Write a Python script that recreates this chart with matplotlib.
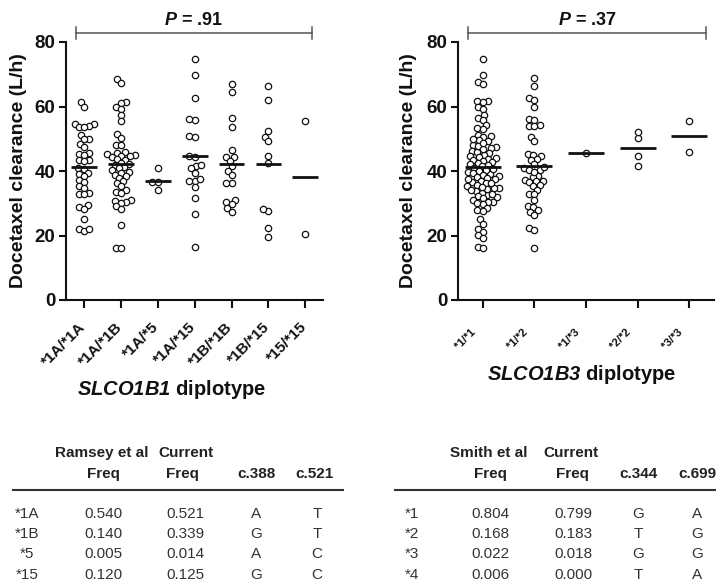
import numpy as np
import matplotlib
matplotlib.use("Agg")
import matplotlib.pyplot as plt
from matplotlib.transforms import ScaledTranslation

plt.rcParams['font.family'] = 'Liberation Sans'
plt.rcParams['mathtext.fontset'] = 'custom'
plt.rcParams['mathtext.it'] = 'Liberation Sans:italic:bold'
plt.rcParams['mathtext.rm'] = 'Liberation Sans:italic:bold'

# ---- data (docetaxel clearance, L/h) ----
b1_labels = ['*1A/*1A', '*1A/*1B', '*1A/*5', '*1A/*15', '*1B/*1B', '*1B/*15', '*15/*15']
b1_1a1a = [61.3, 59.9, 54.6, 54.6, 54.0, 53.5, 53.5, 51.2, 50.0, 49.8, 48.4, 47.3, 45.5,
           45.3, 45.0, 43.5, 43.3, 43.0, 41.0, 40.5, 39.5, 39.0, 38.3, 37.2, 36.5, 35.5,
           34.8, 33.3, 33.0, 32.8, 29.5, 28.9, 28.3, 25.0, 21.9, 21.5, 21.9]
b1_1a1b = [68.5, 67.4, 61.3, 61.0, 59.9, 59.3, 57.4, 55.6, 51.5, 50.3, 48.2, 48.1, 46.0,
           45.6, 45.2, 45.0, 44.8, 44.5, 44.2, 43.8, 43.5, 42.6, 42.2, 41.8, 41.3, 40.8,
           40.2, 39.6, 39.3, 38.9, 38.3, 37.8, 36.8, 36.3, 35.3, 34.0, 33.6, 33.2, 31.0,
           30.6, 30.4, 30.2, 29.0, 28.1, 23.4, 16.2, 16.2]
b1_1a5 = [40.8, 36.6, 36.6, 34.2]
b1_1a15 = [74.7, 69.8, 62.7, 55.8, 56.1, 50.8, 50.4, 44.4, 44.6, 41.6, 40.8, 41.9, 39.5,
           36.9, 37.6, 36.9, 35.1, 31.5, 26.7, 16.5]
b1_1b1b = [67.0, 64.4, 56.3, 53.7, 46.5, 44.2, 44.2, 43.2, 41.6, 40.1, 38.8, 36.2, 36.2,
           30.3, 31.0, 29.8, 28.4, 27.4]
b1_1b15 = [66.5, 62.0, 52.4, 50.6, 49.3, 44.8, 42.4, 27.6, 28.1, 22.2, 19.4]
b1_1515 = [55.6, 20.4]

b3_labels = ['*1/*1', '*1/*2', '*1/*3', '*2/*2', '*3/*3']
b3_11 = [74.6, 69.8, 67.5, 66.9, 61.7, 61.7, 61.3, 60.0, 59.1, 57.4, 56.3, 55.8, 54.4,
         53.2, 53.0, 51.2, 50.7, 50.5, 49.5, 49.3, 48.0, 47.5, 47.2, 46.3, 46.0, 45.6,
         45.0, 44.7, 44.4, 44.0, 43.8, 43.5, 43.2, 42.8, 42.5, 42.1, 41.8, 41.5,
         32.5, 31.8, 39.2, 47.8, 46.8, 48.6, 50.0,
         41.0, 40.6, 40.3, 40.0, 39.6, 39.3, 38.9, 38.5, 38.1, 37.8, 37.4, 37.0, 36.6,
         36.2, 35.8, 35.3, 34.8, 34.3, 33.8, 33.3, 33.0,
         34.6, 32.2, 31.5, 37.6, 36.4, 35.0, 34.0,
         31.0, 30.5, 30.3, 30.1, 29.8, 28.4, 28.0, 27.6, 25.0, 23.6, 22.0, 21.2, 20.2,
         19.3, 16.5, 16.0]
b3_12 = [68.7, 66.5, 62.7, 62.0, 59.7, 56.1, 55.8, 54.3, 54.0, 53.8, 50.6, 49.3, 45.3,
         45.0, 44.8, 43.8, 43.5, 40.3, 42.3, 38.5, 38.2, 41.2, 40.8, 40.3, 39.8, 37.2,
         37.0, 36.8, 36.5, 35.6, 35.3, 34.2, 33.0, 32.8, 31.0, 29.2, 28.8, 27.8, 27.3,
         26.5, 22.3, 21.7, 16.2]
b3_13 = [45.5]
b3_22 = [50.3, 52.2, 44.7, 41.6]
b3_33 = [55.6, 45.8]

p_left = '.91'
p_right = '.37'

# allele tables
t1_head1 = ['Ramsey et al', 'Current']
t1_head2 = ['Freq', 'Freq', 'c.388', 'c.521']
t1_rows = [['*1A', '0.540', '0.521', 'A', 'T'],
           ['*1B', '0.140', '0.339', 'G', 'T'],
           ['*5', '0.005', '0.014', 'A', 'C'],
           ['*15', '0.120', '0.125', 'G', 'C']]
t3_head1 = ['Smith et al', 'Current']
t3_head2 = ['Freq', 'Freq', 'c.344', 'c.699']
t3_rows = [['*1', '0.804', '0.799', 'G', 'A'],
           ['*2', '0.168', '0.183', 'T', 'G'],
           ['*3', '0.022', '0.018', 'G', 'G'],
           ['*4', '0.006', '0.000', 'T', 'A']]

W, H = 716, 583
fig = plt.figure(figsize=(W / 100, H / 100), dpi=100)


def fx(x):
    return x / W


def fy(y):
    return 1 - y / H


def swarm_x(ax, vals, center, d=5.4):
    # simple beeswarm in pixel space (circles may overlap a little, like Prism)
    tr = ax.transData
    ys = np.array([tr.transform((center, v))[1] for v in vals])
    placed = []
    offs = np.zeros(len(vals))
    for i in np.argsort(ys):
        y = ys[i]
        cands = [0.0]
        for px_, py_ in placed:
            dy = abs(y - py_)
            if dy < d:
                dx = np.sqrt(d * d - dy * dy)
                cands += [px_ + dx, px_ - dx]
        cands.sort(key=lambda c: (abs(c), c))
        for c in cands:
            if all((c - px_) ** 2 + (y - py_) ** 2 >= d * d - 1e-6 for px_, py_ in placed):
                break
        placed.append((c, y))
        offs[i] = c
    unit = tr.transform((1, 0))[0] - tr.transform((0, 0))[0]
    return center + offs / unit


def panel(rect, xlim, groups, labels, lab_size, lab_pad, lab_dx, ylab_x,
          bracket, ptext, pval):
    ax = fig.add_axes(rect)
    ax.set_xlim(*xlim)
    ax.set_ylim(0, 80)
    for s in ['top', 'right']:
        ax.spines[s].set_visible(False)
    for s in ['left', 'bottom']:
        ax.spines[s].set_linewidth(1.5)
        ax.spines[s].set_color('#111111')
    ax.set_yticks([0, 20, 40, 60, 80])
    ax.tick_params(axis='y', length=5.3, width=1.5, pad=2, labelsize=13.5, colors='#111111')
    for t in ax.get_yticklabels():
        t.set_fontweight('bold')
    ax.set_xticks(range(len(labels)))
    ax.set_xticklabels(labels, rotation=45, ha='right', fontsize=lab_size, fontweight='bold')
    ax.tick_params(axis='x', length=5.8, width=1.5, pad=lab_pad, colors='#111111')
    off = ScaledTranslation(lab_dx / 100, 0, fig.dpi_scale_trans)
    for t in ax.get_xticklabels():
        t.set_transform(t.get_transform() + off)
    ax.set_ylabel('Docetaxel clearance (L/h)', fontsize=14, fontweight='bold', color='#111111')
    ax.yaxis.set_label_coords(ylab_x, 0.5)

    for i, vals in enumerate(groups):
        xs = swarm_x(ax, vals, i)
        ax.scatter(xs, vals, s=21, facecolors='white', edgecolors='#111111',
                   linewidths=0.9, zorder=3, clip_on=False)
        m = np.mean(vals)
        ax.plot([i - 0.35, i + 0.35], [m, m], color='#111111', lw=2.0, zorder=4,
                solid_capstyle='butt')

    x0, x1 = bracket
    ax.plot([x0, x1], [82.8, 82.8], color='#555555', lw=1.1, clip_on=False)
    for xb in (x0, x1):
        ax.plot([xb, xb], [80.8, 84.6], color='#555555', lw=1.1, clip_on=False)
    ax.text(ptext, 85.4, r'$P$ = ' + pval, ha='center', va='baseline',
            fontsize=13, fontweight='bold', color='#111111')
    return ax


panel([fx(65.7), fy(300), fx(323 - 65.7), (300 - 42) / H], (-0.5, 6.48),
      [b1_1a1a, b1_1a1b, b1_1a5, b1_1a15, b1_1b1b, b1_1b15, b1_1515], b1_labels,
      11, 8.5, 4, -0.150, (-0.22, 6.19), 2.96, p_left)
panel([fx(457.7), fy(300), fx(714 - 457.7), (300 - 42) / H], (-0.485, 4.48),
      [b3_11, b3_12, b3_13, b3_22, b3_33], b3_labels,
      8, 14.0, -5, -0.160, (-0.29, 4.32), 2.02, p_right)

fig.text(fx(172), fy(395), r'$SLCO1B1$ diplotype', ha='center', va='baseline',
         fontsize=14.5, fontweight='bold', color='#111111')
fig.text(fx(582), fy(380), r'$SLCO1B3$ diplotype', ha='center', va='baseline',
         fontsize=14.5, fontweight='bold', color='#111111')


def table(head1, head1_x, head2, head2_x, rows, cols_x, line_x):
    for txt, x in zip(head1, head1_x):
        fig.text(fx(x), fy(456.7), txt, ha='center', va='baseline', fontsize=11,
                 fontweight='bold', color='#222222')
    for txt, x in zip(head2, head2_x):
        fig.text(fx(x), fy(478), txt, ha='center', va='baseline', fontsize=11,
                 fontweight='bold', color='#222222')
    fig.add_artist(plt.Line2D([fx(line_x[0]), fx(line_x[1])], [fy(490), fy(490)],
                              color='#333333', lw=1.5))
    for r, row in enumerate(rows):
        yb = 518.3 + 20.1 * r
        for txt, x in zip(row, cols_x):
            fig.text(fx(x), fy(yb), txt, ha='center', va='baseline', fontsize=11,
                     color='#333333')


table(t1_head1, [102, 186], t1_head2, [103, 182, 257, 315], t1_rows,
      [27, 103, 185, 256, 317], (13, 343))
table(t3_head1, [489, 571], t3_head2, [490, 572, 638, 697], t3_rows,
      [412, 490, 573, 638, 697], (395, 716))

fig.savefig('out.png', dpi=100)
